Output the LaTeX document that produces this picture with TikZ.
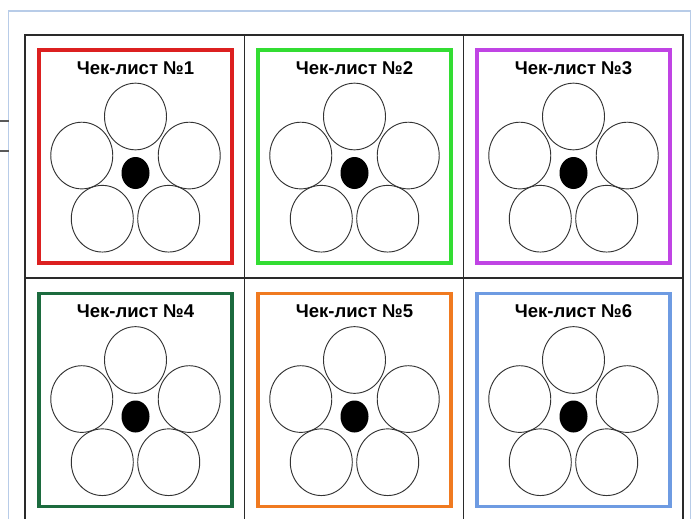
\documentclass[tikz,border=0pt]{standalone}
\usepackage{fontspec}
\setmainfont{Liberation Sans}
\usetikzlibrary{shapes.geometric}
\definecolor{cRed}{HTML}{DC2020}
\definecolor{cGreen}{HTML}{33DD33}
\definecolor{cPurple}{HTML}{C044E4}
\definecolor{cDkGreen}{HTML}{1C6B3E}
\definecolor{cOrange}{HTML}{F07A20}
\definecolor{cBlue}{HTML}{6E9BE2}
\definecolor{frameBlue}{HTML}{B8CCE8}
\definecolor{tableLine}{HTML}{2A2A2A}
\definecolor{circLine}{HTML}{333333}
\tikzset{
  cellbox/.style={draw=#1, line width=2.6pt, minimum width=144.75pt, minimum height=159.75pt, inner sep=0pt, outer sep=0pt},
  titletext/.style={font=\bfseries\fontsize{13.9}{16}\selectfont, anchor=base, inner sep=0pt},
  petal/.style={ellipse, draw=circLine, line width=0.7pt, minimum width=46.5pt, minimum height=50pt, inner sep=0pt},
  core/.style={ellipse, fill=black, minimum width=21pt, minimum height=24pt, inner sep=0pt},
  tablerule/.style={draw=tableLine, line width=1.1pt}
}
\begin{document}
\begin{tikzpicture}[x=0.75pt,y=-0.75pt]
\clip (0,0) rectangle (693,518);
\fill[white] (0,0) rectangle (693,518);
% page frame
\draw[frameBlue, line width=1.2pt] (8.5,530) -- (8.5,11) -- (690.5,11) -- (690.5,530);
\draw[gray!70!black, line width=0.8pt] (0,121) -- (8.5,121);
\draw[gray!70!black, line width=0.8pt] (0,151) -- (8.5,151);
% table
\draw[tablerule] (25,35) rectangle (683,545);
\draw[tablerule] (244.5,35) -- (244.5,545);
\draw[tablerule] (463.5,35) -- (463.5,545);
\draw[tablerule] (25,278) -- (683,278);
% cells
\foreach \i/\j/\n/\c in {0/0/1/cRed, 1/0/2/cGreen, 2/0/3/cPurple, 0/1/4/cDkGreen, 1/1/5/cOrange, 2/1/6/cBlue}{
  \pgfmathsetmacro\cx{135.5+219*\i}
  \pgfmathsetmacro\cy{173+243.5*\j}
  \node[cellbox=\c] (box\n) at (\cx,\cy-16.5) {};
  \node[titletext] (title\n) at (\cx,\cy-99) {Чек-лист №\n};
  \foreach \k in {0,...,4}{
    \pgfmathsetmacro\px{\cx+56.5*cos(270+72*\k)}
    \pgfmathsetmacro\py{\cy+56.5*sin(270+72*\k)}
    \node[petal] (petal\n-\k) at (\px,\py) {};
  }
  \node[core] (core\n) at (\cx,\cy) {};
}
\end{tikzpicture}
\end{document}
